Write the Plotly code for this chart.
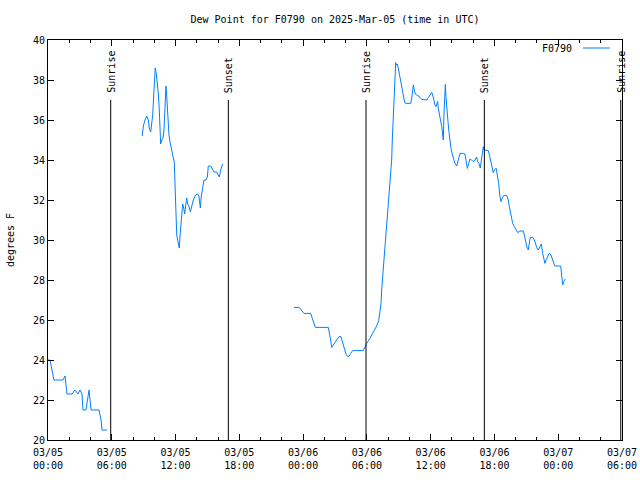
import plotly.graph_objects as go
import pandas as pd

start = pd.Timestamp("2025-03-05 00:00")

# hours since 2025-03-05 00:00 UTC, dew point (deg F)
hours_1 = [0.00, 0.19, 0.56, 1.41, 1.60, 1.79, 2.26, 2.54, 2.82, 3.01, 3.20, 3.29, 3.57, 3.76, 3.86,
           4.05, 4.80, 4.99, 5.08, 5.55]
dew_1 = [24.0, 24.0, 23.0, 23.0, 23.2, 22.3, 22.3, 22.5, 22.3, 22.5, 22.3, 21.5, 21.5, 22.3, 22.5,
         21.5, 21.5, 21.0, 20.5, 20.5]

hours_2 = [8.87, 8.97, 9.13, 9.29, 9.44, 9.53, 9.66, 9.76, 9.85, 9.94, 10.00, 10.09, 10.19, 10.28,
           10.38, 10.47, 10.56, 10.60, 10.70, 10.82, 10.91, 11.01, 11.10, 11.17, 11.26, 11.38, 11.48,
           11.57, 11.69, 11.79, 11.88, 11.95, 12.01, 12.11, 12.20, 12.30, 12.35, 12.42, 12.51, 12.58,
           12.67, 12.77, 12.86, 12.95, 13.05, 13.14, 13.26, 13.39, 13.52, 13.67, 13.89, 14.08, 14.20,
           14.33, 14.42, 14.55, 14.68, 14.86, 14.99, 15.08, 15.31, 15.46, 15.62, 15.87, 16.06, 16.11,
           16.25, 16.34, 16.43]
dew_2 = [35.2, 35.7, 36.0, 36.2, 36.0, 35.6, 35.4, 35.75, 36.25, 37.2, 38.1, 38.6, 38.3, 37.9,
         37.3, 36.5, 35.5, 34.8, 35.0, 35.1, 35.5, 36.4, 37.7, 37.2, 36.0, 35.25, 34.9,
         34.6, 34.25, 34.1, 33.9, 32.9, 31.25, 30.25, 30.0, 29.8, 29.6, 30.2, 30.8, 31.5,
         31.8, 31.6, 31.3, 31.7, 32.1, 31.8, 31.7, 31.4, 31.7, 32.0, 32.25, 32.3, 32.2,
         31.6, 32.2, 32.75, 33.0, 33.0, 33.15, 33.7, 33.7, 33.55, 33.4, 33.4, 33.25, 33.15,
         33.5, 33.7, 33.8]

hours_3 = [23.14, 23.64, 23.83, 24.08, 24.71, 24.86, 25.05, 25.15, 26.37, 26.46, 26.59, 26.69, 26.84,
           27.06, 27.22, 27.38, 27.56, 27.72, 27.87, 28.03, 28.19, 28.34, 28.48, 28.66, 29.66, 29.82,
           29.98, 30.23, 30.45, 30.67, 30.92, 31.11, 31.23, 31.33, 31.39, 31.51, 31.70, 31.89, 32.08,
           32.24, 32.33, 32.39, 32.48, 32.55, 32.64, 32.71, 32.80, 32.86, 32.95, 33.05, 33.18, 33.27,
           33.37, 33.46, 33.56, 33.68, 34.12, 34.22, 34.31, 34.37, 34.46, 34.55, 34.69, 34.84, 35.00,
           35.16, 35.37, 35.63, 35.78, 35.94, 36.10, 36.19, 36.28, 36.41, 36.50, 36.57, 36.66, 36.72,
           36.81, 36.94, 37.04, 37.13, 37.19, 37.25, 37.32, 37.38, 37.44, 37.54, 37.63, 37.72, 37.82,
           37.91, 38.01, 38.13, 38.29, 38.45, 38.54, 38.64, 38.76, 39.07, 39.23, 39.32, 39.45, 39.58,
           39.70, 39.86, 40.01, 40.17, 40.33, 40.42, 40.54, 40.67, 40.76, 40.86, 40.95, 41.04, 41.42,
           41.51, 41.65, 41.77, 41.89, 42.02, 42.17, 42.27, 42.40, 42.52, 42.62, 42.71, 42.90, 43.15,
           43.30, 43.40, 43.49, 43.58, 43.72, 43.87, 44.03, 44.19, 44.40, 44.71, 44.81, 44.97, 45.09,
           45.18, 45.28, 45.37, 45.60, 45.75, 45.88, 45.97, 46.12, 46.26, 46.41, 46.54, 46.66, 46.75,
           46.88, 47.04, 47.16, 47.32, 47.44, 47.54, 47.67, 48.23, 48.29, 48.35, 48.42, 48.51, 48.66]
dew_3 = [26.63, 26.63, 26.5, 26.33, 26.33, 26.08, 25.83, 25.63, 25.63, 25.4, 25.0, 24.63, 24.75,
         24.87, 25.03, 25.17, 25.17, 24.9, 24.58, 24.3, 24.17, 24.2, 24.33, 24.47, 24.47, 24.67,
         24.83, 25.03, 25.25, 25.47, 25.7, 25.97, 26.33, 26.83, 27.5, 28.3, 29.5, 31.0, 32.3,
         33.0, 34.0, 35.0, 36.1, 37.2, 38.4, 38.87, 38.75, 38.8, 38.6, 38.3, 38.0, 37.8,
         37.5, 37.2, 36.87, 36.83, 36.83, 37.1, 37.5, 37.75, 37.5, 37.3, 37.25, 37.2, 37.13,
         37.03, 37.0, 37.0, 37.12, 37.25, 37.37, 37.25, 37.0, 36.75, 36.67, 36.78, 36.92, 36.58,
         36.33, 36.0, 35.67, 35.25, 35.0, 36.25, 37.33, 37.78, 37.17, 36.67, 35.92, 35.42, 34.92,
         34.58, 34.33, 34.08, 33.83, 33.7, 33.92, 34.17, 34.33, 34.33, 34.3, 34.0, 33.58, 33.83,
         34.05, 34.0, 33.92, 34.0, 34.15, 33.92, 33.83, 33.6, 34.0, 34.45, 34.67, 34.5, 34.47,
         34.3, 34.0, 33.75, 33.37, 33.53, 33.58, 33.25, 32.83, 32.17, 31.92, 32.08, 32.23, 32.23,
         32.0, 31.67, 31.42, 31.08, 30.83, 30.67, 30.5, 30.37, 30.45, 30.45, 30.25, 29.83, 29.58,
         29.5, 29.92, 30.13, 30.13, 30.0, 29.8, 29.63, 29.5, 29.67, 29.8, 29.33, 28.92, 28.83,
         29.03, 29.2, 29.33, 29.25, 29.08, 28.92, 28.7, 28.7, 28.33, 27.92, 27.75, 27.92, 28.05]

sun_times = ["2025-03-05 05:54", "2025-03-05 16:58", "2025-03-06 05:55", "2025-03-06 17:03", "2025-03-07 05:53"]
sun_labels = ["Sunrise", "Sunset", "Sunrise", "Sunset", "Sunrise"]

tick_hours = [0, 6, 12, 18, 24, 30, 36, 42, 48, 54]
tick_text = ["03/05<br>00:00", "03/05<br>06:00", "03/05<br>12:00", "03/05<br>18:00",
             "03/06<br>00:00", "03/06<br>06:00", "03/06<br>12:00", "03/06<br>18:00",
             "03/07<br>00:00", "03/07<br>06:00"]

station = "F0790"
title = "Dew Point for F0790 on 2025-Mar-05 (time in UTC)"

def to_time(hs):
    return [start + pd.Timedelta(hours=h) for h in hs]

xs, ys = [], []
for hs, vs in [(hours_1, dew_1), (hours_2, dew_2), (hours_3, dew_3)]:
    if xs:
        xs.append(None)
        ys.append(None)
    xs += to_time(hs)
    ys += vs

FONT = "DejaVu Sans Mono"
COLOR = "#0080ff"

fig = go.Figure()
fig.add_trace(go.Scatter(x=xs, y=ys, mode="lines", name=station,
                         line=dict(color=COLOR, width=1), connectgaps=False, showlegend=False))

shapes = []
annotations = []
for t, lab in zip(sun_times, sun_labels):
    shapes.append(dict(type="line", xref="x", yref="y", x0=t, x1=t, y0=20, y1=37,
                       line=dict(color="black", width=1)))
    annotations.append(dict(x=t, y=37, xref="x", yref="y", text=lab, textangle=-90,
                            showarrow=False, xanchor="center", yanchor="bottom", yshift=5,
                            font=dict(family=FONT, size=10, color="black")))

# legend mimic (gnuplot style: label then line sample)
annotations.append(dict(x=0.917, y=0.98, xref="paper", yref="paper", text=station, showarrow=False,
                        xanchor="right", yanchor="middle", font=dict(family=FONT, size=10, color="black")))
shapes.append(dict(type="line", xref="paper", yref="paper", x0=0.932, x1=0.979, y0=0.98, y1=0.98,
                   line=dict(color=COLOR, width=1)))

fig.update_layout(
    width=640, height=480,
    margin=dict(l=48, r=18, t=40, b=40, autoexpand=False),
    paper_bgcolor="white", plot_bgcolor="white",
    font=dict(family=FONT, size=10, color="black"),
    title=dict(text=title, x=0.5, xref="paper", xanchor="center", y=1 - 19 / 480, yanchor="middle",
               font=dict(family=FONT, size=10, color="black")),
    shapes=shapes,
    annotations=annotations,
    xaxis=dict(
        type="date", automargin=False,
        range=[start, start + pd.Timedelta(hours=54)],
        tickvals=to_time(tick_hours), ticktext=tick_text,
        ticks="inside", ticklen=6, tickcolor="black",
        showline=True, linecolor="black", linewidth=1, mirror="ticks",
        showgrid=False, zeroline=False, ticklabelstandoff=3,
        minor=dict(dtick=2 * 3600 * 1000, tick0=start, ticks="inside", ticklen=3,
                   tickcolor="black", showgrid=False),
        tickfont=dict(family=FONT, size=10),
    ),
    yaxis=dict(
        range=[20, 40], dtick=2, tick0=20, automargin=False,
        ticks="inside", ticklen=6, tickcolor="black",
        showline=True, linecolor="black", linewidth=1, mirror="ticks",
        showgrid=False, zeroline=False,
        title=dict(text="degrees F", font=dict(family=FONT, size=10), standoff=16),
        tickfont=dict(family=FONT, size=10),
    ),
)

fig.write_html("out.html")
